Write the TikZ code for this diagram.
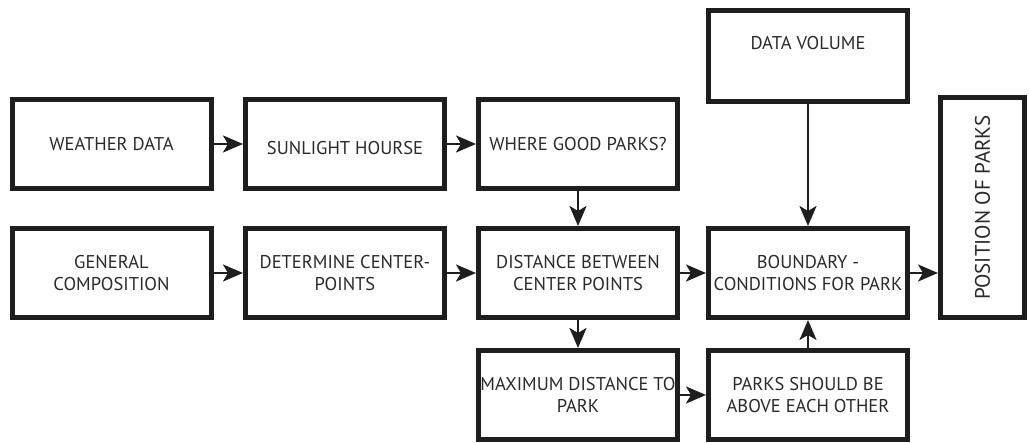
\documentclass[tikz,border=0pt]{standalone}
\usepackage{fontspec}
\setmainfont{PT Sans}
\usetikzlibrary{arrows.meta}
\definecolor{ink}{HTML}{1E1E1E}
\definecolor{txt}{HTML}{2A2A2A}
\tikzset{
  box/.style={draw=ink, line width=5pt, rectangle, align=center, inner sep=1pt,
    font=\fontsize{18.5}{22.5}\selectfont, text=txt, minimum width=199pt, minimum height=89pt},
  conn/.style={draw=ink, line width=2.4pt, -{Stealth[length=20pt,width=17pt,inset=5pt]}},
}
\begin{document}
\begin{tikzpicture}[x=1pt,y=-1pt]
\useasboundingbox[fill=white] (0,0) rectangle (1029,443);
% row 1
\node[box] (weather) at (111.5,144) {WEATHER DATA};
\node[box, text height=21pt, text depth=0pt] (sun) at (345,144) {SUNLIGHT HOURSE};
\node[box] (where) at (578,144) {WHERE GOOD PARKS?};
\node[box, minimum height=91pt, text height=13pt, text depth=26pt] (volume) at (808,56) {DATA VOLUME};
\node[box, minimum width=220pt, minimum height=84pt, rotate=90, font=\fontsize{21}{25}\selectfont] (position) at (982.5,207.5) {POSITION OF PARKS};
% row 2
\node[box] (general) at (111.5,273) {GENERAL\\COMPOSITION};
\node[box] (determine) at (345,273) {DETERMINE CENTER-\\POINTS};
\node[box] (distance) at (578,273) {DISTANCE BETWEEN\\CENTER POINTS};
\node[box] (boundary) at (808,273) {BOUNDARY -\\CONDITIONS FOR PARK};
% row 3
\node[box] (maximum) at (578,395) {MAXIMUM DISTANCE TO\\PARK};
\node[box] (parks) at (808,395) {PARKS SHOULD BE\\ABOVE EACH OTHER};
% connectors
\draw[conn] (weather) -- (sun);
\draw[conn] (sun) -- (where);
\draw[conn] (general) -- (determine);
\draw[conn] (determine) -- (distance);
\draw[conn] (distance) -- (boundary);
\draw[conn] (where) -- (distance);
\draw[conn] (volume) -- (boundary);
\draw[conn] (distance) -- (maximum);
\draw[conn] (maximum) -- (parks);
\draw[conn] (parks) -- (boundary);
\draw[conn] (boundary.east) -- (boundary.east -| position.north);
\end{tikzpicture}
\end{document}
